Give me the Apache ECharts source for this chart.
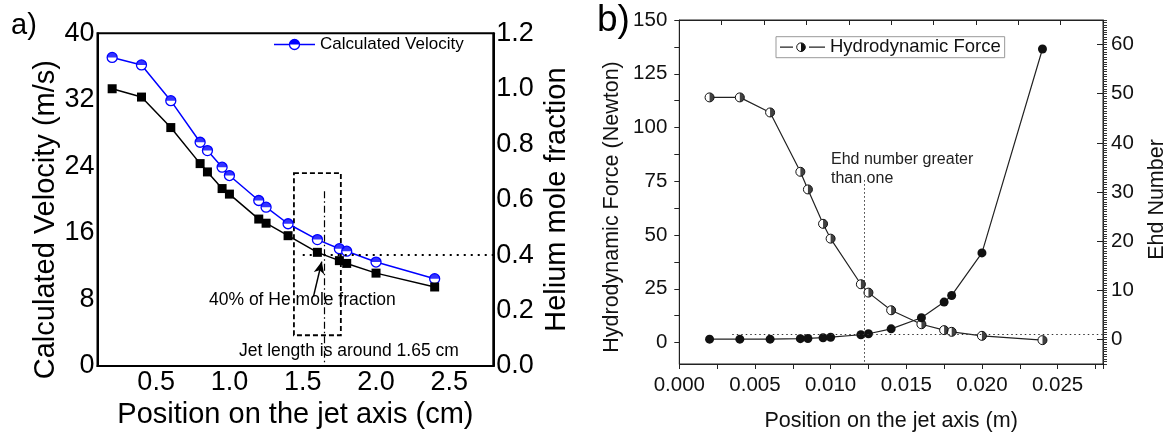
<!DOCTYPE html>
<html><head><meta charset="utf-8">
<script src="https://cdn.jsdelivr.net/npm/echarts@6/dist/echarts.min.js"></script>
<style>html,body{margin:0;padding:0;background:#fff}#c{width:1169px;height:437px}</style>
</head><body><div id="c"></div>
<script>
// ---- Panel a data ----
const posA = [0.2, 0.4, 0.6, 0.8, 0.85, 0.95, 1.0, 1.2, 1.25, 1.4, 1.6, 1.75, 1.8, 2.0, 2.4];
const velocity = [37.1, 36.2, 31.9, 26.9, 25.9, 23.9, 22.9, 19.9, 19.1, 17.1, 15.2, 14.1, 13.8, 12.5, 10.5];
const heFraction = [1.0, 0.97, 0.86, 0.73, 0.70, 0.64, 0.62, 0.53, 0.515, 0.47, 0.41, 0.38, 0.37, 0.335, 0.285];
const xLabelsA = [0.5, 1.0, 1.5, 2.0, 2.5];
// ---- Panel b data ----
const posB = [0.002, 0.004, 0.006, 0.008, 0.0085, 0.0095, 0.010, 0.012, 0.0125, 0.014, 0.016, 0.0175, 0.018, 0.020, 0.024];
const force = [114, 114, 107, 79.4, 71.2, 55.2, 48.3, 27.1, 23.2, 15.0, 8.5, 5.75, 4.96, 3.1, 1.1];
const ehd = [0.05, 0.05, 0.05, 0.15, 0.2, 0.35, 0.45, 0.95, 1.15, 2.15, 4.4, 7.6, 8.95, 17.6, 59.1];
const xLabelsB = [0, 0.005, 0.010, 0.015, 0.020, 0.025];
const yLabelsB = [0, 25, 50, 75, 100, 125, 150];
const yTicksB = [0, 12.5, 25, 37.5, 50, 62.5, 75, 87.5, 100, 112.5, 125, 137.5, 150];
const ehdLabels = [0, 10, 20, 30, 40, 50, 60];

const FF = '"Liberation Sans", Arial, sans-serif';
const BLUE = '#0000ff';

function svgIcon(svg) { return 'image://data:image/svg+xml;charset=utf-8,' + encodeURIComponent(svg); }
const iconA = svgIcon('<svg xmlns="http://www.w3.org/2000/svg" width="41" height="14"><line x1="0" y1="7" x2="41" y2="7" stroke="#0000ff" stroke-width="1.5"/><circle cx="20.5" cy="7" r="5" fill="#fff" stroke="#0000ff" stroke-width="1.3"/><path d="M15.5,7 A5,5 0 0 1 25.5,7 Z" fill="#0000ff"/></svg>');
const iconB = svgIcon('<svg xmlns="http://www.w3.org/2000/svg" width="45" height="14"><line x1="0" y1="7" x2="13" y2="7" stroke="#222" stroke-width="1.3"/><line x1="29" y1="7" x2="45" y2="7" stroke="#222" stroke-width="1.3"/><circle cx="21" cy="7" r="4.3" fill="#fff" stroke="#111" stroke-width="1"/><path d="M21,2.7 A4.3,4.3 0 0 1 21,11.3 Z" fill="#111"/></svg>');

const pairs = (xs, ys) => xs.map((x, i) => [x, ys[i]]);

const chart = echarts.init(document.getElementById('c'));
chart.setOption({
  animation: false,
  backgroundColor: '#fff',
  textStyle: { fontFamily: FF },
  grid: [
    { left: 97.5, top: 33.3, width: 395.8, height: 332.7, show: true, borderColor: '#000', borderWidth: 2, backgroundColor: 'transparent' },
    { left: 679.3, top: 20, width: 424, height: 345, show: true, borderColor: '#222', borderWidth: 1, backgroundColor: 'transparent' }
  ],
  legend: [
    { data: [{ name: 'Calculated Velocity', icon: iconA }], left: 274, top: 36, itemWidth: 41, itemHeight: 14, padding: 0, selectedMode: false,
      textStyle: { fontSize: 17, color: '#000', fontFamily: FF } },
    { data: [{ name: 'Hydrodynamic Force', icon: iconB }], left: 776, top: 36.7, itemWidth: 45, itemHeight: 14, padding: [1, 4, 1, 4], selectedMode: false,
      borderColor: '#999', borderWidth: 1, textStyle: { fontSize: 18.5, color: '#111', fontFamily: FF } }
  ],
  xAxis: [
    { gridIndex: 0, type: 'value', min: 0.1, max: 2.8,
      axisLine: { show: true, onZero: false, lineStyle: { color: '#000', width: 2 } }, axisTick: { show: false }, splitLine: { show: false },
      axisLabel: { customValues: xLabelsA, formatter: v => v.toFixed(1), fontSize: 27, color: '#000', margin: 3, fontFamily: FF },
      name: 'Position on the jet axis (cm)', nameLocation: 'middle', nameGap: 23,
      nameTextStyle: { fontSize: 29, color: '#000', fontFamily: FF } },
    { gridIndex: 1, type: 'value', min: 0, max: 0.028, interval: 0.0025,
      axisLine: { show: true, onZero: false, lineStyle: { color: '#222', width: 1 } }, axisTick: { show: true, length: 5, lineStyle: { color: '#222' } }, splitLine: { show: false },
      axisLabel: { customValues: xLabelsB, formatter: v => v.toFixed(3), fontSize: 20.5, color: '#111', margin: 11, fontFamily: FF },
      name: 'Position on the jet axis (m)', nameLocation: 'middle', nameGap: 46,
      nameTextStyle: { fontSize: 21.5, color: '#111', fontFamily: FF } },
    { gridIndex: 1, type: 'value', position: 'top', min: 0, max: 10, interval: 1,
      axisLine: { show: true, onZero: false, lineStyle: { color: '#222', width: 1 } }, axisTick: { show: true, inside: true, length: 5, lineStyle: { color: '#222' } },
      axisLabel: { show: false }, splitLine: { show: false } }
  ],
  yAxis: [
    { gridIndex: 0, type: 'value', position: 'left', min: 0, max: 40, interval: 8,
      axisLine: { show: true, onZero: false, lineStyle: { color: '#000', width: 2 } }, axisTick: { show: false }, splitLine: { show: false },
      axisLabel: { fontSize: 27, color: '#000', margin: 3, fontFamily: FF },
      name: 'Calculated Velocity (m/s)', nameLocation: 'middle', nameGap: 34,
      nameTextStyle: { fontSize: 29, color: '#000', fontFamily: FF, padding: [0, 40, 0, 0] } },
    { gridIndex: 0, type: 'value', position: 'right', min: 0, max: 1.2, interval: 0.2,
      axisLine: { show: true, onZero: false, lineStyle: { color: '#000', width: 2 } }, axisTick: { show: false }, splitLine: { show: false },
      axisLabel: { formatter: v => v.toFixed(1), fontSize: 27, color: '#000', margin: 3, fontFamily: FF },
      name: 'Helium mole fraction', nameLocation: 'middle', nameGap: 49,
      nameTextStyle: { fontSize: 29, color: '#000', fontFamily: FF } },
    { gridIndex: 1, type: 'value', position: 'left', min: -10, max: 150,
      axisLine: { show: true, onZero: false, lineStyle: { color: '#222', width: 1 } },
      axisTick: { show: true, customValues: yTicksB, length: 5, lineStyle: { color: '#222' } }, splitLine: { show: false },
      axisLabel: { customValues: yLabelsB, fontSize: 20.5, color: '#111', margin: 12, fontFamily: FF },
      name: 'Hydrodynamic Force (Newton)', nameLocation: 'middle', nameGap: 56,
      nameTextStyle: { fontSize: 21.5, color: '#111', fontFamily: FF, padding: [0, 30, 0, 0] } },
    { gridIndex: 1, type: 'value', position: 'right', min: -5, max: 65, interval: 0.5,
      axisLine: { show: true, onZero: false, lineStyle: { color: '#222', width: 1 } },
      axisTick: { show: true, length: 4, lineStyle: { color: '#333' } }, splitLine: { show: false },
      axisLabel: { customValues: ehdLabels, fontSize: 20.5, color: '#111', margin: 8, fontFamily: FF },
      name: 'Ehd Number', nameLocation: 'middle', nameGap: 43,
      nameTextStyle: { fontSize: 21.5, color: '#111', fontFamily: FF, padding: [0, 15, 0, 0] } },
    { gridIndex: 1, type: 'value', position: 'right', min: -5, max: 65,
      axisLine: { show: false, onZero: false }, axisTick: { show: true, inside: true, customValues: ehdLabels, length: 6, lineStyle: { color: '#222' } },
      axisLabel: { show: false }, splitLine: { show: false } }
  ],
  series: [
    { name: 'Calculated Velocity', type: 'line', xAxisIndex: 0, yAxisIndex: 0, data: pairs(posA, velocity),
      symbol: 'circle', symbolSize: 10, itemStyle: { color: '#fff', borderColor: BLUE, borderWidth: 1.3 },
      lineStyle: { color: BLUE, width: 1.5 }, z: 3,
      markArea: { silent: true, itemStyle: { color: 'rgba(0,0,0,0)', borderColor: '#000', borderWidth: 1.8, borderType: [5, 3] },
        label: { show: false }, data: [[{ coord: [1.44, 23.2] }, { coord: [1.76, 3.7] }]] },
      markLine: { silent: true, symbol: 'none', label: { show: false }, animation: false,
        lineStyle: { color: '#000', width: 1.2, type: [7, 3, 1.5, 3] },
        data: [[{ coord: [1.65, 21] }, { coord: [1.65, 0] }]] } },
    { name: 'vtop', type: 'scatter', xAxisIndex: 0, yAxisIndex: 0, data: pairs(posA, velocity),
      symbol: 'path://M0,10 A10,10 0 0 1 20,10 Z', symbolKeepAspect: true, symbolSize: 10, symbolOffset: [0, '-25%'],
      itemStyle: { color: BLUE }, z: 4, silent: true },
    { name: 'He', type: 'line', xAxisIndex: 0, yAxisIndex: 1, data: pairs(posA, heFraction),
      symbol: 'rect', symbolSize: 9, itemStyle: { color: '#000' }, lineStyle: { color: '#000', width: 1.5 }, z: 3,
      markLine: { silent: true, symbol: 'none', label: { show: false }, animation: false,
        lineStyle: { color: '#000', width: 2, type: [2, 5] },
        data: [[{ coord: [1.5, 0.4] }, { coord: [2.8, 0.4] }]] } },
    { name: 'arrow', type: 'line', xAxisIndex: 0, yAxisIndex: 0, data: [],
      markLine: { silent: true, symbol: ['none', 'arrow'], symbolSize: [8, 12], label: { show: false }, animation: false,
        lineStyle: { color: '#000', width: 1.5, type: 'solid' },
        data: [[{ coord: [1.573, 8.34] }, { coord: [1.63, 12.55] }]] } },
    { name: 'Hydrodynamic Force', type: 'line', xAxisIndex: 1, yAxisIndex: 2, data: pairs(posB, force),
      symbol: 'circle', symbolSize: 9, itemStyle: { color: '#fff', borderColor: '#111', borderWidth: 1 },
      lineStyle: { color: '#222', width: 1.2 }, z: 3,
      markLine: { silent: true, symbol: 'none', label: { show: false }, animation: false,
        lineStyle: { color: '#333', width: 1, type: [1.5, 2.5] },
        data: [[{ coord: [0.0122, 75.5] }, { coord: [0.0122, -10] }]] } },
    { name: 'ftop', type: 'scatter', xAxisIndex: 1, yAxisIndex: 2, data: pairs(posB, force),
      symbol: 'path://M10,0 A10,10 0 0 1 10,20 Z', symbolKeepAspect: true, symbolSize: 9, symbolOffset: ['25%', 0],
      itemStyle: { color: '#111' }, z: 4, silent: true },
    { name: 'Ehd', type: 'line', xAxisIndex: 1, yAxisIndex: 3, data: pairs(posB, ehd),
      symbol: 'circle', symbolSize: 9, itemStyle: { color: '#111' }, lineStyle: { color: '#222', width: 1.2 }, z: 3,
      markLine: { silent: true, symbol: 'none', label: { show: false }, animation: false,
        lineStyle: { color: '#333', width: 1, type: [1.5, 3] },
        data: [[{ coord: [0.0035, 1] }, { coord: [0.028, 1] }]] } }
  ],
  graphic: [
    { type: 'text', x: 11, y: 26, style: { text: 'a)', font: '29px ' + FF, fill: '#000', textVerticalAlign: 'middle' } },
    { type: 'text', x: 597, y: 21, style: { text: 'b)', font: '37px ' + FF, fill: '#000', textVerticalAlign: 'middle' } },
    { type: 'text', x: 209, y: 300, style: { text: '40% of He mole fraction', font: '17.5px ' + FF, fill: '#000', textVerticalAlign: 'middle' } },
    { type: 'text', x: 239, y: 351, style: { text: 'Jet length is around 1.65 cm', font: '17.5px ' + FF, fill: '#000', textVerticalAlign: 'middle' } },
    { type: 'text', x: 831, y: 160, style: { text: 'Ehd number greater', font: '16px ' + FF, fill: '#222', textVerticalAlign: 'middle' } },
    { type: 'text', x: 831, y: 178.5, style: { text: 'than one', font: '16px ' + FF, fill: '#222', textVerticalAlign: 'middle' } }
  ]
});
</script></body></html>
